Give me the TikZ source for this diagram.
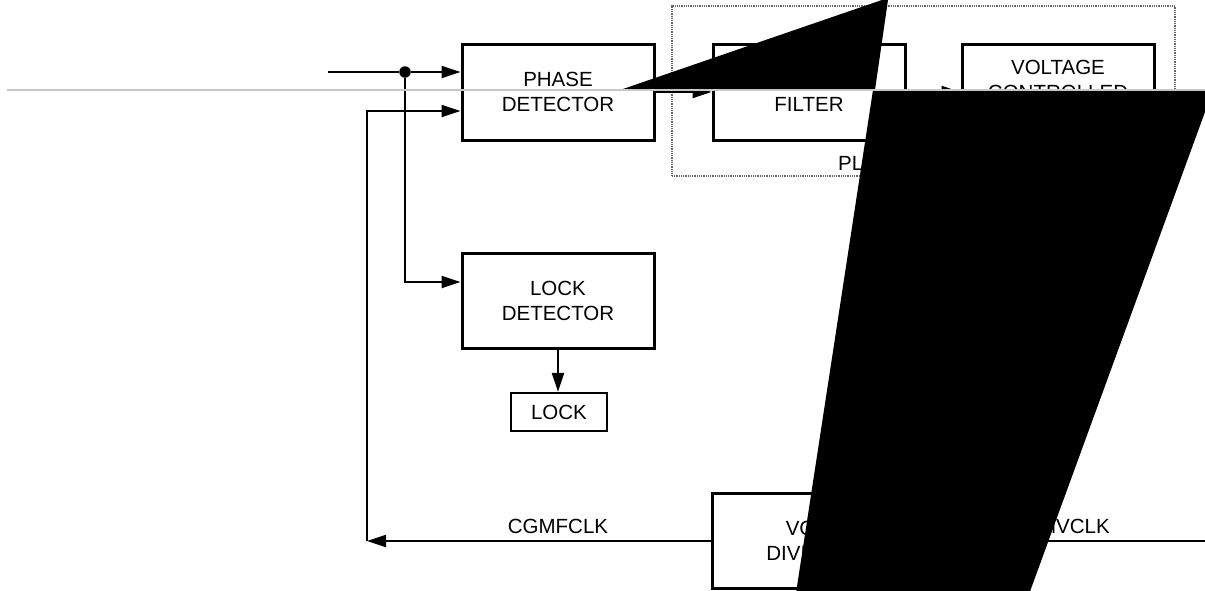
\documentclass[tikz,border=0pt]{standalone}
\usepackage{fontspec}
\setmainfont{Liberation Sans}
\usetikzlibrary{arrows.meta}
\begin{document}
\begin{tikzpicture}[x=1pt,y=-1pt,
  box/.style={draw=black,line width=3pt,minimum width=192pt,minimum height=96pt,inner sep=0pt,align=center,font=\fontsize{20.5}{25}\selectfont},
  conn/.style={draw=black,line width=2.3pt},
  tip/.style={-{Triangle[length=19pt,width=12pt]}},
  lbl/.style={font=\fontsize{20.5}{25}\selectfont,inner sep=0pt},
  pllbox/.style={draw=black!60,line width=1.8pt,dash pattern=on 1pt off 0.8pt,minimum width=503pt,minimum height=170pt,inner sep=0pt},
  glitch/.style={fill=black,draw=none}]
\clip (0,0) rectangle (1205,590);
\fill[white] (0,0) rectangle (1205,590);
% dotted PLL frame
\node[pllbox] (pll) at (923.5,91) {};
\node[lbl,anchor=base west] (pllt) at (838,170) {PLL};
% blocks
\node[box] (pd) at (558,92) {PHASE\\DETECTOR};
\node[box] (filt) at (809,92) {LOOP\\FILTER};
\node[box] (vco) at (1058,92) {VOLTAGE\\CONTROLLED\\OSCILLATOR};
\node[box,minimum height=95pt] (ld) at (558,300.5) {LOCK\\DETECTOR};
\node[box,line width=2.3pt,minimum width=96pt,minimum height=38pt] (lock) at (559,412) {LOCK};
\node[box,minimum height=95pt] (div) at (808,540.5) {VCO\\DIVIDER};
% points
\coordinate (in) at (328,72);
\node[circle,fill=black,inner sep=0pt,minimum size=11.5pt] (j) at (405,72) {};
\coordinate (ldc) at (405,282);
\coordinate (fb) at (367,541);
\coordinate (fbt) at (367,111);
\coordinate (out) at (1205,541);
% connectors
\draw[conn] (in) -- (j);
\draw[conn,tip] (j) -- (j -| pd.west);
\draw[conn,tip] (j) -- (ldc) -- (ldc -| ld.west);
\draw[conn,tip] (fb) -- (fbt) -- (fbt -| pd.west);
\draw[conn,tip] (div.west |- fb) -- (fb);
\draw[conn,tip] (out) -- (div.east |- out);
\draw[conn,tip] (ld.south) -- (ld.south |- lock.north);
\draw[conn,tip] (pd.east) -- (filt.west);
\draw[conn,tip] (filt.east) -- (vco.west);
% labels
\node[lbl,anchor=base] (cf) at (558,533) {CGMFCLK};
\node[lbl,anchor=base] (cv) at (1059,533) {CGMVCLK};
% rendering artefacts of the reference
\fill[glitch] (620,90) -- (888.3,-2.2) -- (875,90) -- cycle;
\fill[glitch] (873,90) -- (1213,90) -- (1028.7,595) -- (795.7,595) -- cycle;
\draw[black!22,line width=1.2pt] (7,90) -- (1205,90);
\end{tikzpicture}
\end{document}
